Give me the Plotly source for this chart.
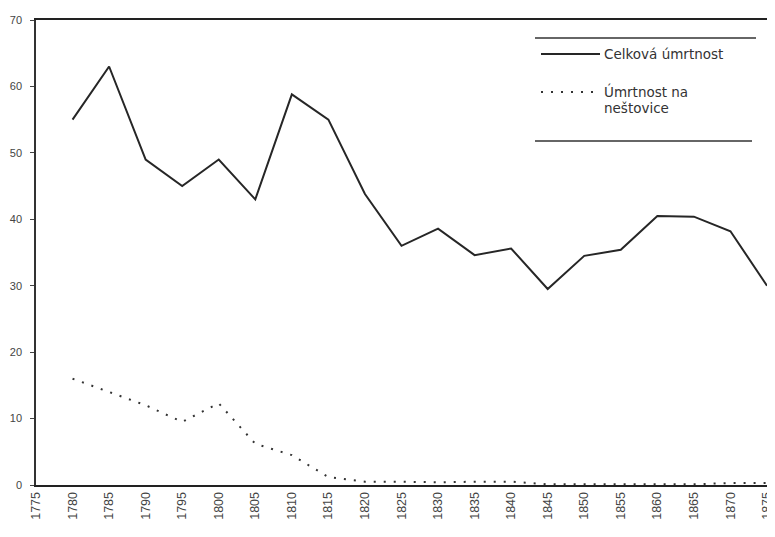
import plotly.graph_objects as go

years = list(range(1780, 1880, 5))
total_mortality = [55, 63, 49, 45, 49, 43, 58.8, 55, 43.8, 36, 38.6, 34.6, 35.6, 29.5,
                   34.5, 35.4, 40.5, 40.4, 38.2, 30]
smallpox_mortality = [16, 14, 12, 9.5, 12.3, 6.2, 4.5, 1.2, 0.5, 0.5, 0.4, 0.5, 0.5, 0.1,
                      0.1, 0.2, 0.2, 0.1, 0.3, 0.3]
x_ticks = list(range(1775, 1880, 5))
y_ticks = list(range(0, 80, 10))
legend_labels = ["Celková úmrtnost", "Úmrtnost na", "neštovice"]

# page offset of the figure inside the browser page (default body margin)
OX, OY = 8, 7
W, H = 775 - OX, 537
L, R, T, B = 36 - OX, 0, 19 - OY, H - (484 - OY)
PW, PH = W - L - R, H - T - B
YEAR_PX = (767 - 36) / 100.0
X_END = 1775 + PW / YEAR_PX


def px_x(px):
    return (px - OX - L) / PW


def px_y(py):
    return (H - B - (py - OY)) / PH


SOLID = dict(color="#262626", width=2)
DOTTED = dict(color="#333333", width=2, dash="2px,8px")

fig = go.Figure()
fig.add_trace(go.Scatter(x=years, y=total_mortality, mode="lines",
                         name=legend_labels[0], line=SOLID, showlegend=False))
fig.add_trace(go.Scatter(x=years, y=smallpox_mortality, mode="lines",
                         name=legend_labels[1] + " " + legend_labels[2],
                         line=DOTTED, showlegend=False))

legend_font = dict(family="DejaVu Sans, sans-serif", size=13.5, color="#333333")
shapes = [
    dict(type="line", xref="paper", yref="paper", x0=px_x(535), x1=px_x(756),
         y0=px_y(37), y1=px_y(37), line=dict(color="#333333", width=1.3)),
    dict(type="line", xref="paper", yref="paper", x0=px_x(535), x1=px_x(752),
         y0=px_y(140), y1=px_y(140), line=dict(color="#333333", width=1.3)),
    dict(type="line", xref="paper", yref="paper", x0=px_x(541), x1=px_x(600),
         y0=px_y(53), y1=px_y(53), line=SOLID),
    dict(type="line", xref="paper", yref="paper", x0=px_x(541), x1=px_x(600),
         y0=px_y(91), y1=px_y(91), line=DOTTED),
]
annotations = [
    dict(xref="paper", yref="paper", x=px_x(602), y=px_y(53), text=legend_labels[0],
         showarrow=False, xanchor="left", yanchor="middle", font=legend_font),
    dict(xref="paper", yref="paper", x=px_x(602), y=px_y(90), text=legend_labels[1],
         showarrow=False, xanchor="left", yanchor="middle", font=legend_font),
    dict(xref="paper", yref="paper", x=px_x(602), y=px_y(107), text=legend_labels[2],
         showarrow=False, xanchor="left", yanchor="middle", font=legend_font),
]

fig.update_layout(
    width=W, height=H,
    margin=dict(l=L, r=R, t=T, b=B, autoexpand=False),
    paper_bgcolor="white", plot_bgcolor="white",
    font=dict(family="Liberation Sans, Arial, sans-serif", color="#333333"),
    showlegend=False,
    xaxis=dict(range=[1775, X_END], tickmode="array", tickvals=x_ticks,
               ticktext=[str(v) for v in x_ticks], tickangle=-90,
               tickfont=dict(size=12.5, color="#444444"), automargin=False,
               showgrid=False, zeroline=False, showline=True, linecolor="#222222",
               linewidth=2, mirror=True, ticks="", fixedrange=True),
    yaxis=dict(range=[0, 70], tickmode="array", tickvals=y_ticks,
               tickfont=dict(size=11, color="#444444"), automargin=False,
               showgrid=False, zeroline=False, showline=True, linecolor="#333333",
               linewidth=1.5, ticks="outside", ticklen=4, tickcolor="#444444",
               ticklabelstandoff=6, fixedrange=True),
    shapes=shapes,
    annotations=annotations,
)

fig.write_html("out.html")
